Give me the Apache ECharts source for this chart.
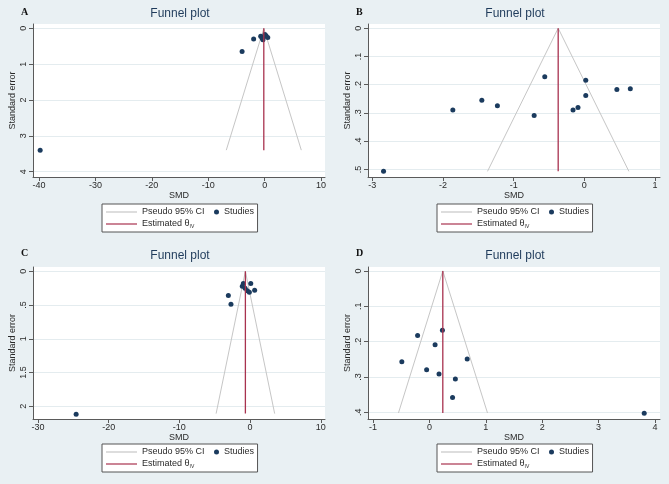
<!DOCTYPE html>
<html>
<head>
<meta charset="utf-8">
<script src="https://cdn.jsdelivr.net/npm/echarts@6/dist/echarts.min.js"></script>
<style>
html,body{margin:0;padding:0;background:#e9f0f3;}
#chart{width:669px;height:484px;}
</style>
</head>
<body>
<div id="chart"></div>
<script>
// ---------- data ----------
const panelLetters = ['A', 'B', 'C', 'D'];
const chartTitle = 'Funnel plot';
const ciName = 'Pseudo 95% CI';
const studiesName = 'Studies';
const estName = 'Estimated θIV';
const xAxisTitle = 'SMD';
const yAxisTitle = 'Standard error';

// Panel A
const smdA = [-39.8, -4.0, -1.95, -0.7, -0.45, -0.2, 0.05, 0.25, 0.55, -0.3];
const seA  = [3.4, 0.65, 0.30, 0.22, 0.28, 0.24, 0.17, 0.21, 0.26, 0.32];
const thetaA = -0.15, seMaxA = 3.4, ciLeftA = -6.8, ciRightA = 6.5;
const xTicksA = [-40, -30, -20, -10, 0, 10];
const yTicksA = [0, 1, 2, 3, 4];

// Panel B
const smdB = [-2.84, -1.86, -1.45, -1.23, -0.71, -0.56, -0.16, -0.09, 0.02, 0.02, 0.46, 0.65];
const seB  = [0.507, 0.29, 0.255, 0.275, 0.309, 0.172, 0.29, 0.281, 0.184, 0.238, 0.217, 0.214];
const thetaB = -0.37, seMaxB = 0.507, ciLeftB = -1.37, ciRightB = 0.63;
const xTicksB = [-3, -2, -1, 0, 1];
const yTicksB = [0, 0.1, 0.2, 0.3, 0.4, 0.5];

// Panel C
const smdC = [-24.6, -3.07, -2.7, -1.1, -0.95, -0.7, -0.4, -0.1, 0.1, 0.65];
const seC  = [2.12, 0.36, 0.49, 0.22, 0.18, 0.25, 0.29, 0.31, 0.18, 0.28];
const thetaC = -0.66, seMaxC = 2.11, ciLeftC = -4.8, ciRightC = 3.48;
const xTicksC = [-30, -20, -10, 0, 10];
const yTicksC = [0, 0.5, 1, 1.5, 2];

// Panel D
const smdD = [-0.49, -0.21, -0.05, 0.10, 0.17, 0.23, 0.41, 0.46, 0.67, 3.81];
const seD  = [0.257, 0.183, 0.28, 0.209, 0.292, 0.168, 0.358, 0.306, 0.249, 0.403];
const thetaD = 0.237, seMaxD = 0.402, ciLeftD = -0.55, ciRightD = 1.03;
const xTicksD = [-1, 0, 1, 2, 3, 4];
const yTicksD = [0, 0.1, 0.2, 0.3, 0.4];

// ---------- layout / style ----------
const panels = [
  {smd: smdA, se: seA, theta: thetaA, seMax: seMaxA, ciL: ciLeftA, ciR: ciRightA, xt: xTicksA, yt: yTicksA,
   xr: [-41.07, 10.7], yr: [-0.12, 4.15], grid: {left: 33, top: 24, width: 292, height: 153}, legend: {left: 102, top: 204}, tTop: 8, lTop: 7},
  {smd: smdB, se: seB, theta: thetaB, seMax: seMaxB, ciL: ciLeftB, ciR: ciRightB, xt: xTicksB, yt: yTicksB,
   xr: [-3.06, 1.07], yr: [-0.015, 0.527], grid: {left: 368, top: 24, width: 292, height: 153}, legend: {left: 437, top: 204}, tTop: 8, lTop: 7},
  {smd: smdC, se: seC, theta: thetaC, seMax: seMaxC, ciL: ciLeftC, ciR: ciRightC, xt: xTicksC, yt: yTicksC,
   xr: [-30.7, 10.6], yr: [-0.064, 2.19], grid: {left: 33, top: 267, width: 292, height: 152}, legend: {left: 102, top: 444}, tTop: 250, lTop: 248},
  {smd: smdD, se: seD, theta: thetaD, seMax: seMaxD, ciL: ciLeftD, ciR: ciRightD, xt: xTicksD, yt: yTicksD,
   xr: [-1.09, 4.09], yr: [-0.011, 0.419], grid: {left: 368, top: 267, width: 292, height: 152}, legend: {left: 437, top: 444}, tTop: 250, lTop: 248}
];

const FONT = 'Liberation Sans, Arial, sans-serif';
const ciColor = '#c6c6c6';
const estColor = '#a8324f';
const dotColor = '#1b3b5e';
const axisColor = '#5a5a5a';
const textColor = '#2a2a2a';

function fmt(v) {
  let s = String(Math.round(v * 1000) / 1000);
  s = s.replace(/^0\./, '.').replace(/^-0\./, '-.');
  return s;
}

const option = {
  backgroundColor: '#e9f0f3',
  animation: false,
  title: [], grid: [], xAxis: [], yAxis: [], series: [], legend: []
};

panels.forEach((p, i) => {
  const g = p.grid;
  option.grid.push({left: g.left, top: g.top, width: g.width, height: g.height,
    show: true, backgroundColor: '#ffffff', borderWidth: 0, containLabel: false});
  option.title.push({text: chartTitle, left: g.left + g.width / 2 + 1, top: p.tTop, textAlign: 'center', padding: 0,
    textStyle: {fontFamily: FONT, fontSize: 12, fontWeight: 'normal', color: '#1f3b5b'}});
  option.title.push({text: panelLetters[i], left: g.left - 12, top: p.lTop, padding: 0,
    textStyle: {fontFamily: 'Liberation Serif, Times New Roman, serif', fontSize: 10, fontWeight: 'bold', color: '#111'}});

  option.xAxis.push({
    type: 'value', gridIndex: i, min: p.xr[0], max: p.xr[1],
    name: xAxisTitle, nameLocation: 'middle', nameGap: 12,
    nameTextStyle: {fontFamily: FONT, fontSize: 9, color: textColor},
    axisLine: {show: true, onZero: false, lineStyle: {color: axisColor, width: 1}},
    axisTick: {show: true, inside: false, length: 4, customValues: p.xt, lineStyle: {color: axisColor}},
    axisLabel: {customValues: p.xt, formatter: fmt, fontFamily: FONT, fontSize: 9, color: textColor, margin: 4},
    splitLine: {show: false}
  });
  option.yAxis.push({
    type: 'value', gridIndex: i, inverse: true, min: p.yr[0], max: p.yr[1],
    name: yAxisTitle, nameLocation: 'middle', nameGap: 16, nameRotate: 90,
    nameTextStyle: {fontFamily: FONT, fontSize: 9, color: textColor},
    axisLine: {show: true, onZero: false, lineStyle: {color: axisColor, width: 1}},
    axisTick: {show: true, inside: false, length: 4, customValues: p.yt, lineStyle: {color: axisColor}},
    axisLabel: {customValues: p.yt, formatter: fmt, rotate: 90, fontFamily: FONT, fontSize: 9, color: textColor, margin: 5},
    splitLine: {show: true, lineStyle: {color: '#e4ecef', width: 1}}
  });

  option.series.push({
    name: ciName, type: 'line', xAxisIndex: i, yAxisIndex: i, symbol: 'none', z: 1,
    color: ciColor, itemStyle: {color: ciColor}, lineStyle: {color: ciColor, width: 1},
    data: [[p.ciL, p.seMax], [p.theta, 0], [p.ciR, p.seMax]]
  });
  option.series.push({
    name: studiesName, type: 'scatter', xAxisIndex: i, yAxisIndex: i, symbol: 'circle', symbolSize: 5, z: 2,
    color: dotColor, itemStyle: {color: dotColor, opacity: 1},
    data: p.smd.map((x, k) => [x, p.se[k]])
  });
  option.series.push({
    name: estName, type: 'line', xAxisIndex: i, yAxisIndex: i, symbol: 'none', z: 3,
    color: estColor, itemStyle: {color: estColor}, lineStyle: {color: estColor, width: 1.3},
    data: [[p.theta, 0], [p.theta, p.seMax]]
  });

  const lg = p.legend;
  option.legend.push({
    orient: 'vertical', left: lg.left, top: lg.top, z: 4,
    backgroundColor: '#ffffff', borderColor: '#555555', borderWidth: 1, borderRadius: 0,
    padding: [3, 53, 3, 4], itemGap: 2, itemWidth: 31, itemHeight: 1.2,
    selectedMode: false,
    data: [{name: ciName, icon: 'rect'}, {name: estName, icon: 'rect'}],
    formatter: function (name) { return name === estName ? 'Estimated θ{sub|IV}' : name; },
    textStyle: {fontFamily: FONT, fontSize: 9, color: textColor, lineHeight: 10,
      rich: {sub: {fontFamily: FONT, fontSize: 5, color: textColor, verticalAlign: 'bottom', padding: [4, 0, 0, 0]}}}
  });
  option.legend.push({
    orient: 'horizontal', left: lg.left + 112, top: lg.top + 3, z: 5,
    padding: 0, itemWidth: 5, itemHeight: 5, selectedMode: false,
    data: [{name: studiesName, icon: 'circle'}],
    textStyle: {fontFamily: FONT, fontSize: 9, color: textColor, lineHeight: 10}
  });
});

const chart = echarts.init(document.getElementById('chart'), null, {renderer: 'canvas'});
chart.setOption(option);
</script>
</body>
</html>
